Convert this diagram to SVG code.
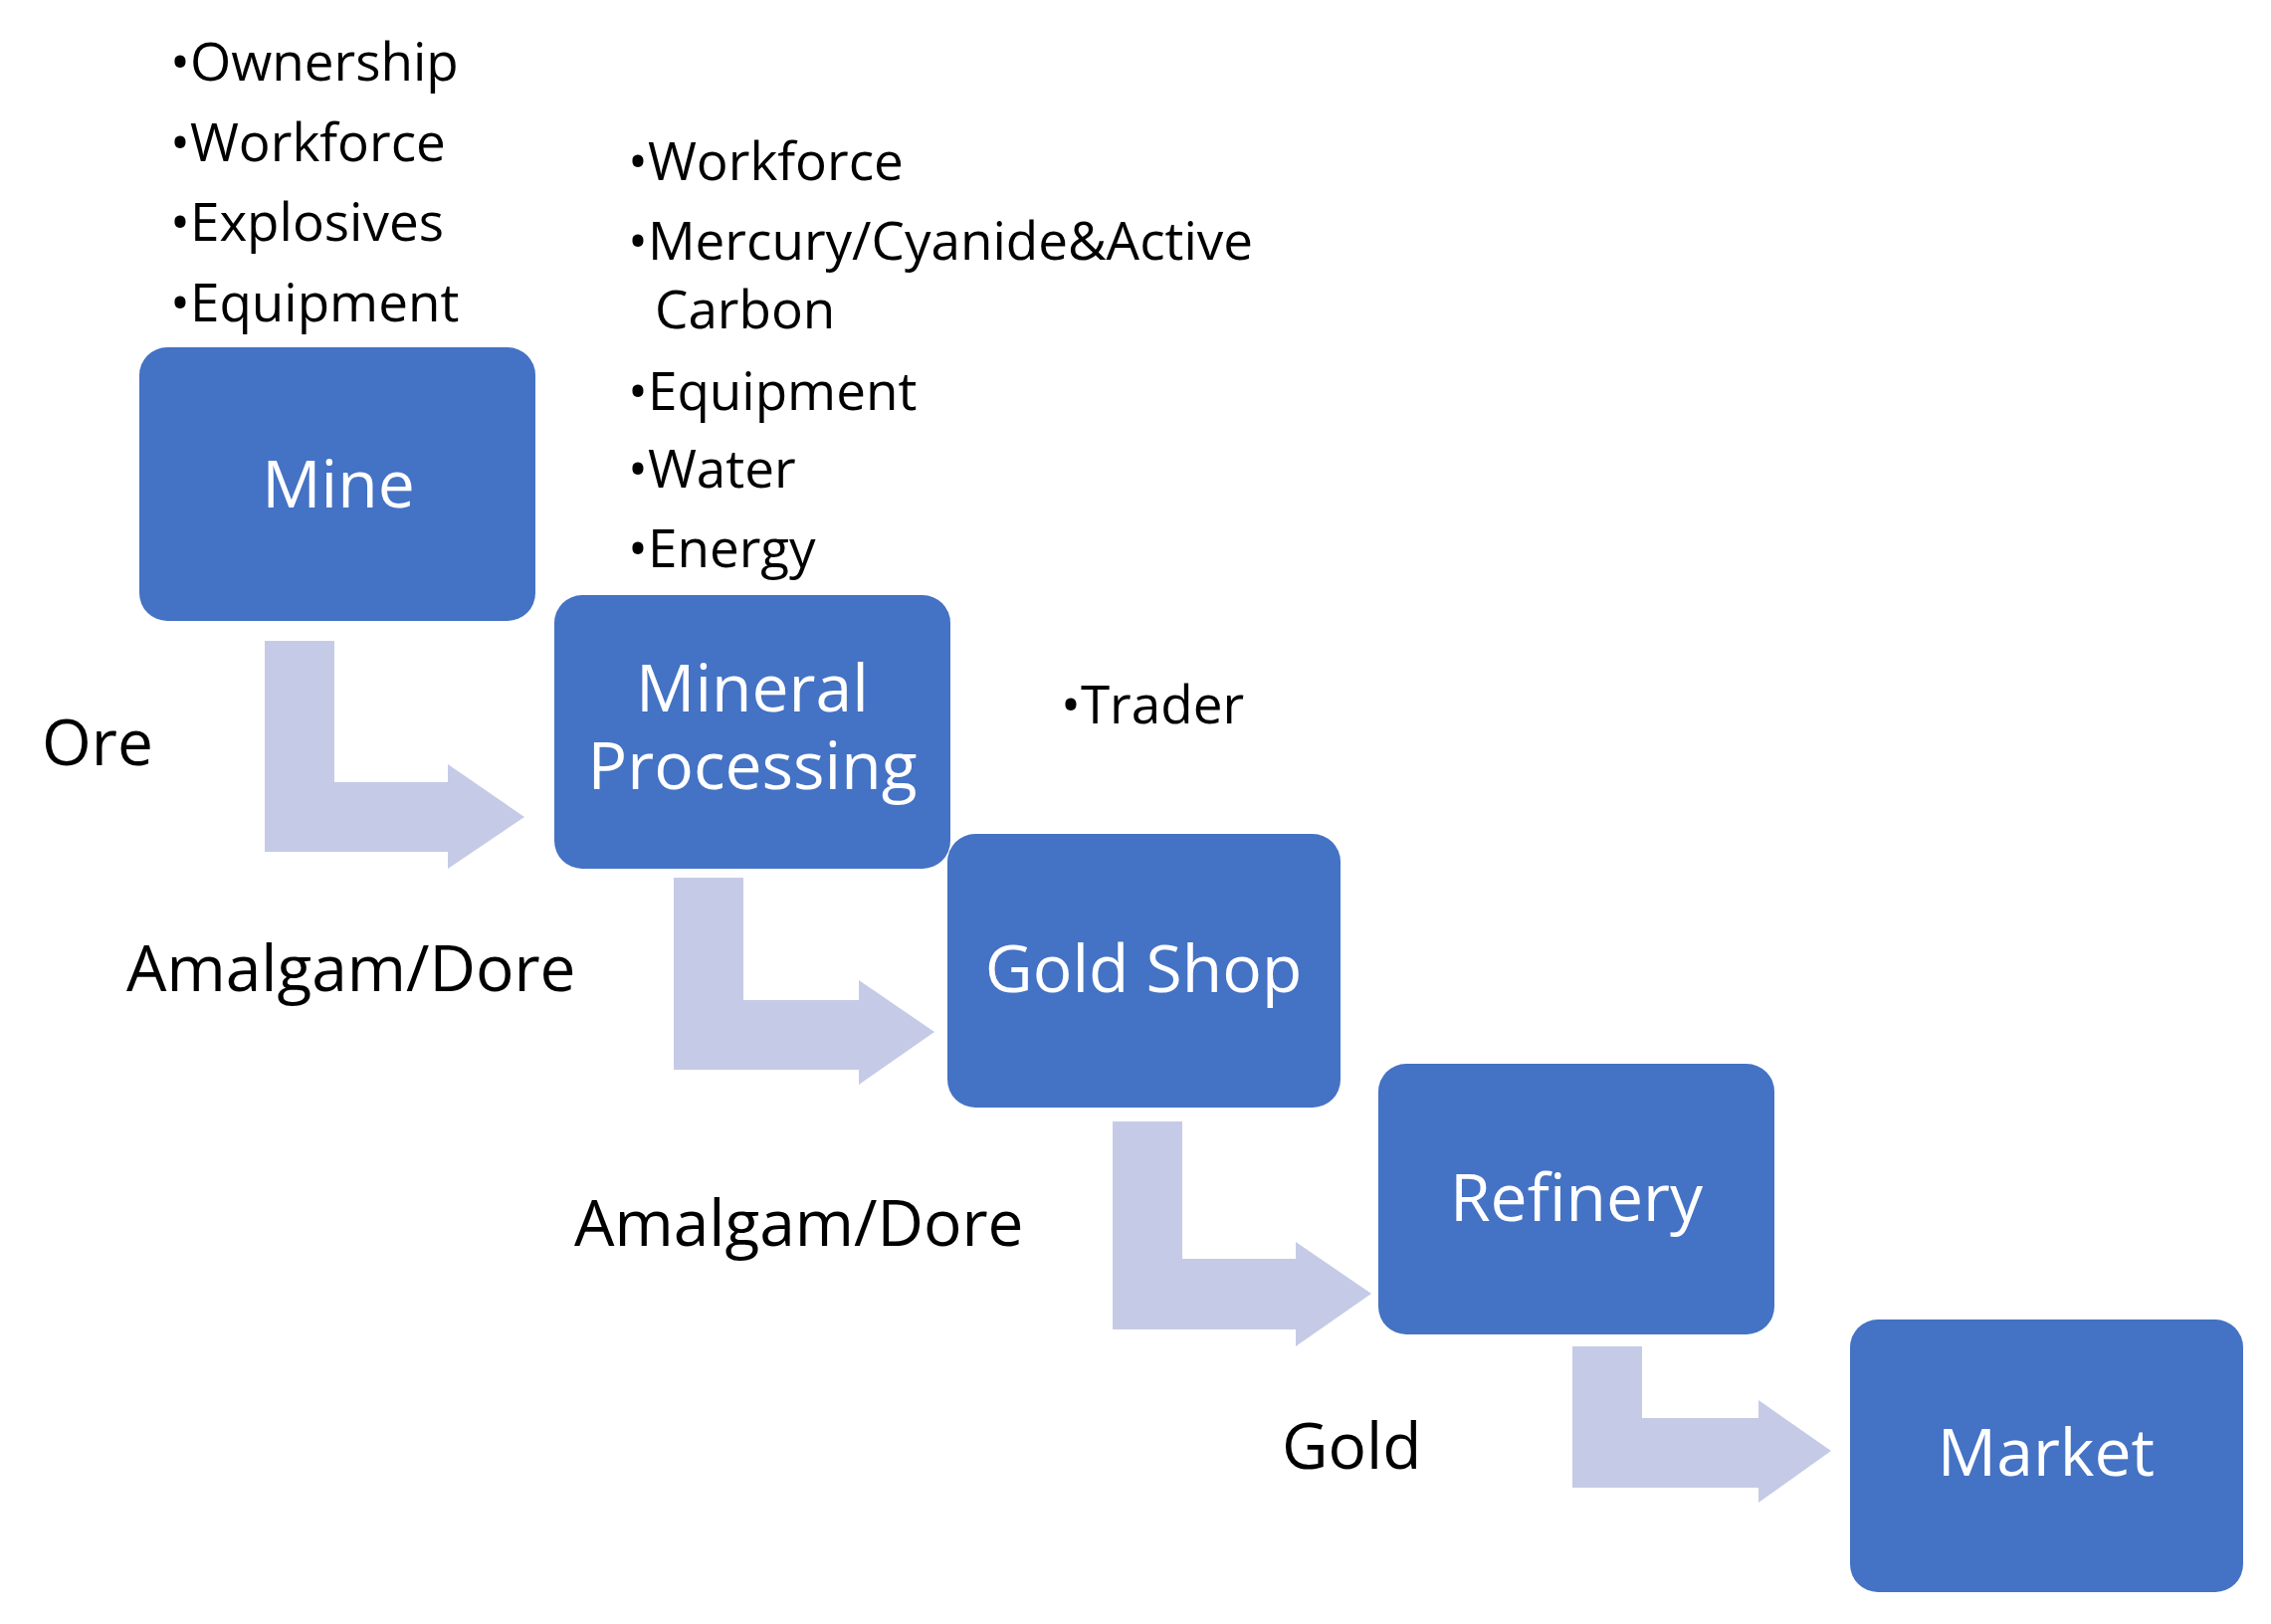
<svg xmlns="http://www.w3.org/2000/svg" width="2282" height="1632" viewBox="0 0 2282 1632">
<style>
.box{fill:#4472c4}
.bl{font-family:"Open Sans","Noto Sans",sans-serif;font-size:66px;fill:#fff;text-anchor:middle}
.t{font-family:"Open Sans","Noto Sans",sans-serif;font-size:53px;fill:#000}
.f{font-family:"Open Sans","Noto Sans",sans-serif;font-size:64px;fill:#000}
.arr{fill:#c5cbe6}
</style>
<rect width="2282" height="1632" fill="#fff"/>
<g id="connectors">
<path class="arr" d="M266,644H336V786H450V768L527,821L450,873V856H266Z"/>
<path class="arr" d="M677,882H747V1005H863V985L939,1037L863,1090V1075H677Z"/>
<path class="arr" d="M1118,1127H1188V1265H1302V1248L1378,1300L1302,1353V1336H1118Z"/>
<path class="arr" d="M1580,1353H1650V1425H1767V1407L1840,1458L1767,1510V1495H1580Z"/>
</g>
<g id="mine"><rect class="box" x="140" y="349" width="398" height="275" rx="28"/><text class="bl" x="340" y="510" font-size="78">Mine</text></g>
<g id="processing"><rect class="box" x="557" y="598" width="398" height="275" rx="28"/><text class="bl" x="756" y="715">Mineral</text><text class="bl" x="756" y="793">Processing</text></g>
<g id="goldshop"><rect class="box" x="952" y="838" width="395" height="275" rx="28"/><text class="bl" x="1149" y="997">Gold Shop</text></g>
<g id="refinery"><rect class="box" x="1385" y="1069" width="398" height="272" rx="28"/><text class="bl" x="1584" y="1227">Refinery</text></g>
<g id="market"><rect class="box" x="1859" y="1326" width="395" height="274" rx="28"/><text class="bl" x="2056" y="1483">Market</text></g>
<g id="labels">
<text class="t" x="171" y="81">•Ownership</text>
<text class="t" x="171" y="162">•Workforce</text>
<text class="t" x="171" y="242">•Explosives</text>
<text class="t" x="171" y="323">•Equipment</text>
<g font-size="57">
<text class="t" x="631" y="181" font-size="57">•Workforce</text>
<text class="t" x="631" y="261" font-size="57">•Mercury/Cyanide&amp;Active</text>
<text class="t" x="658" y="330" font-size="57">Carbon</text>
<text class="t" x="631" y="412" font-size="57">•Equipment</text>
<text class="t" x="631" y="490" font-size="57">•Water</text>
<text class="t" x="631" y="570" font-size="57">•Energy</text>
</g>
<text class="t" x="1066" y="727" font-size="62">•Trader</text>
<text class="f" x="42" y="769">Ore</text>
<text class="f" x="127" y="996">Amalgam/Dore</text>
<text class="f" x="577" y="1252">Amalgam/Dore</text>
<text class="f" x="1288" y="1476">Gold</text>
</g>
</svg>
